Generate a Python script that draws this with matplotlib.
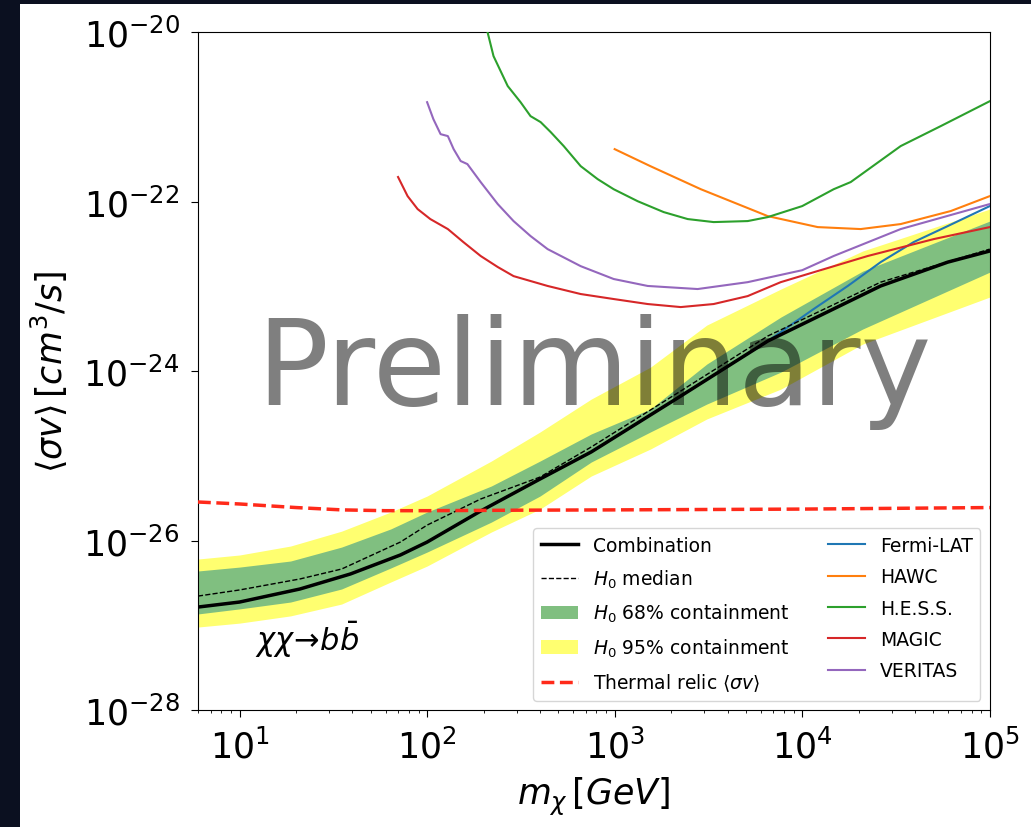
import numpy as np
import matplotlib
matplotlib.use('Agg')
from matplotlib import pyplot as plt
from matplotlib.patches import Rectangle
from matplotlib.ticker import NullLocator

# Valores (massa em GeV, <sigma v> em cm^3/s)
m_comb = [6, 10, 21, 39, 72, 100, 193, 400, 750, 2250, 6550, 26200, 59700, 1e5]
sv_comb = [1.64e-27, 1.88e-27, 2.68e-27, 4.03e-27, 6.75e-27, 9.59e-27, 2.23e-26,
           5.32e-26, 1.11e-25, 5.07e-25, 2.26e-24, 1.01e-23, 1.93e-23, 2.61e-23]

m_med = [6, 10, 21, 35, 72, 100, 193, 400, 750, 2250, 6550, 26200, 1e5]
sv_med = [2.21e-27, 2.61e-27, 3.52e-27, 4.61e-27, 9.59e-27, 1.52e-26, 3.09e-26,
          5.61e-26, 1.27e-25, 5.81e-25, 2.59e-24, 1.12e-23, 2.75e-23]

m_band = [6, 10, 18.7, 35, 64, 100, 220, 400, 750, 1550, 3100, 7700, 21000, 1e5]
y95_hi = [6.05e-27, 6.75e-27, 8.61e-27, 1.29e-26, 2.17e-26, 3.35e-26, 8.67e-26,
          1.91e-25, 4.67e-25, 1.11e-24, 3.49e-24, 9.29e-24, 2.61e-23, 8.16e-23]
y68_hi = [4.37e-27, 4.86e-27, 5.73e-27, 8.37e-27, 1.37e-26, 2.17e-26, 4.40e-26,
          8.67e-26, 1.81e-25, 3.56e-25, 1.21e-24, 4.34e-24, 1.51e-23, 5.89e-23]
y68_lo = [1.36e-27, 1.56e-27, 1.88e-27, 2.68e-27, 4.74e-27, 7.31e-27, 1.65e-26,
          3.35e-26, 8.44e-26, 1.91e-25, 4.08e-25, 9.73e-25, 3.13e-24, 1.47e-23]
y95_lo = [9.53e-28, 1.06e-27, 1.29e-27, 1.78e-27, 3.24e-27, 5.00e-27, 1.26e-26,
          2.35e-26, 5.77e-26, 1.20e-25, 2.72e-25, 6.13e-25, 2.08e-24, 7.47e-24]

m_relic = [6, 10, 20, 35, 60, 100, 300, 1000, 1e4, 1e5]
sv_relic = [2.85e-26, 2.70e-26, 2.45e-26, 2.30e-26, 2.25e-26, 2.25e-26, 2.28e-26,
            2.30e-26, 2.35e-26, 2.45e-26]

m_fermi = [6, 10, 21, 39, 72, 100, 193, 400, 750, 2250, 6550, 7680, 11500,
           17500, 26200, 39300, 59700, 1e5]
sv_fermi = [1.64e-27, 1.88e-27, 2.68e-27, 4.03e-27, 6.75e-27, 9.59e-27, 2.23e-26,
            5.32e-26, 1.11e-25, 5.07e-25, 2.26e-24, 2.88e-24, 5.39e-24,
            1.01e-23, 1.93e-23, 3.33e-23, 5.14e-23, 8.85e-23]

m_hawc = [1000, 1550, 2880, 6550, 12100, 20500, 33500, 61900, 1e5]
sv_hawc = [4.16e-22, 2.62e-22, 1.40e-22, 6.74e-23, 5.00e-23, 4.74e-23, 5.43e-23,
           7.73e-23, 1.16e-22]

m_hess = [210, 226, 269, 315, 356, 403, 456, 535, 659, 812, 988, 1327, 1825,
          2451, 3370, 5120, 6550, 1e4, 14720, 18140, 33500, 54800, 1e5]
sv_hess = [1.0e-20, 5.21e-21, 2.31e-21, 1.49e-21, 1.02e-21, 8.67e-22, 6.61e-22,
           4.52e-22, 2.62e-22, 1.84e-22, 1.40e-22, 1.01e-22, 7.52e-23, 6.22e-23,
           5.73e-23, 5.89e-23, 6.56e-23, 8.85e-23, 1.40e-22, 1.70e-22, 4.52e-22,
           7.78e-22, 1.53e-21]

m_magic = [70, 78.7, 89, 104, 129, 156, 193, 238, 289, 439, 659, 988, 1500,
           2250, 3370, 5120, 7680, 22360, 50300, 1e5]
sv_magic = [1.95e-22, 1.16e-22, 8.16e-23, 6.22e-23, 4.74e-23, 3.33e-23, 2.28e-23,
            1.69e-23, 1.32e-23, 1.01e-23, 8.11e-24, 7.08e-24, 6.18e-24, 5.69e-24,
            6.18e-24, 7.67e-24, 1.12e-23, 2.28e-23, 3.61e-23, 5.00e-23]

m_veritas = [100, 108, 118, 129, 138.5, 151, 164, 193, 238, 289, 356, 439, 659,
             988, 1500, 2770, 5120, 1e4, 14720, 33500, 1e5]
sv_veritas = [1.49e-21, 9.40e-22, 6.25e-22, 5.93e-22, 4.16e-22, 3.01e-22,
              2.77e-22, 1.70e-22, 9.35e-23, 5.89e-23, 3.92e-23, 2.75e-23,
              1.73e-23, 1.22e-23, 1.01e-23, 9.29e-24, 1.12e-23, 1.55e-23,
              2.28e-23, 4.74e-23, 9.35e-23]

fig = plt.figure(figsize=(10.31, 8.28), dpi=100)
fig.patch.set_facecolor('#0b1020')
fig.add_artist(Rectangle((20 / 1031, 0), 1 - 20 / 1031, 1 - 5 / 828,
                         transform=fig.transFigure, facecolor='white',
                         edgecolor='none', zorder=-1))
ax = fig.add_axes([0.192, 0.1413, 0.768, 0.8187])

# Bandas de contenção
ax.fill_between(m_band, y95_lo, y95_hi, color='#ffff70', lw=0,
                label=r'$H_0$ 95% containment', zorder=1)
ax.fill_between(m_band, y68_lo, y68_hi, color='#80bf80', lw=0,
                label=r'$H_0$ 68% containment', zorder=2)

# Experimentos individuais
ax.plot(m_fermi, sv_fermi, color='tab:blue', lw=1.5, label='Fermi-LAT', zorder=3)
ax.plot(m_hawc, sv_hawc, color='tab:orange', lw=1.5, label='HAWC', zorder=3)
ax.plot(m_hess, sv_hess, color='tab:green', lw=1.5, label='H.E.S.S.', zorder=3)
ax.plot(m_magic, sv_magic, color='tab:red', lw=1.5, label='MAGIC', zorder=3)
ax.plot(m_veritas, sv_veritas, color='tab:purple', lw=1.5, label='VERITAS', zorder=3)

ax.plot(m_comb, sv_comb, color='k', lw=2.5, label='Combination', zorder=4)
ax.plot(m_med, sv_med, color='k', lw=1, ls='--', label=r'$H_0$ median', zorder=4)
ax.plot(m_relic, sv_relic, color='#ff2a1a', lw=2.5, ls='--',
        label=r'Thermal relic $\langle\sigma v\rangle$', zorder=5)

ax.set_xscale('log')
ax.set_yscale('log')
ax.set_xlim(6, 1e5)
ax.set_ylim(1e-28, 1e-20)
ax.set_yticks([1e-28, 1e-26, 1e-24, 1e-22, 1e-20])
ax.yaxis.set_minor_locator(NullLocator())
ax.tick_params(labelsize=25, length=5, pad=8)

ax.set_xlabel(r'$m_\chi\,[GeV]$', fontsize=25, labelpad=8)
ax.set_ylabel(r'$\langle\sigma v\rangle\,[cm^3/s]$', fontsize=25, labelpad=10)

ax.text(0.072, 0.105, r'$\chi\chi\!\rightarrow\!b\bar{b}$', transform=ax.transAxes,
        fontsize=22, va='center', ha='left')
ax.text(0.5, 0.5, 'Preliminary', transform=ax.transAxes, fontsize=86,
        color='k', alpha=0.5, ha='center', va='center', zorder=10)

h, l = ax.get_legend_handles_labels()
ordem = ['Combination', r'$H_0$ median', r'$H_0$ 68% containment',
         r'$H_0$ 95% containment', r'Thermal relic $\langle\sigma v\rangle$',
         'Fermi-LAT', 'HAWC', 'H.E.S.S.', 'MAGIC', 'VERITAS']
hd = dict(zip(l, h))
ax.legend([hd[k] for k in ordem], ordem, loc='lower right', ncol=2,
          fontsize=13.5, labelspacing=0.66)

fig.savefig('out.png', dpi=100)
